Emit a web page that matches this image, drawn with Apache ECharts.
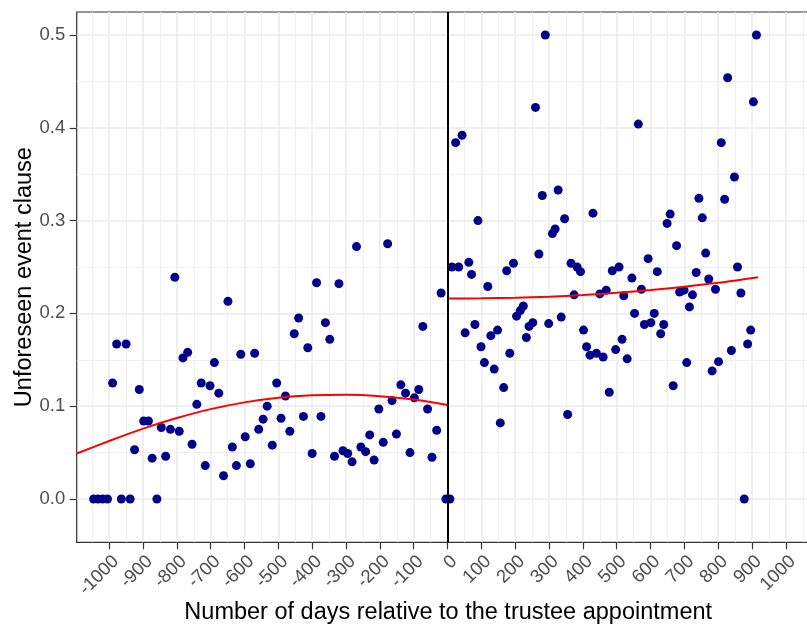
<!DOCTYPE html>
<html>
<head>
<meta charset="utf-8">
<script src="https://cdn.jsdelivr.net/npm/echarts@6/dist/echarts.min.js"></script>
<style>
  html, body { margin: 0; padding: 0; background: #ffffff; }
  #chart { width: 807px; height: 628px; }
</style>
</head>
<body>
<div id="chart"></div>
<script>
// binned observations before the trustee appointment
const daysBefore = [-1046, -1033, -1019, -1005, -990, -978, -964, -950, -938, -925, -911, -898, -884, -873, -859, -846, -833, -819, -806, -793,
  -782, -768, -755, -741, -728, -716, -702, -689, -676, -662, -649, -636, -624, -611, -598, -583, -570, -558, -545, -533,
  -518, -505, -492, -479, -466, -453, -440, -426, -413, -400, -387, -374, -361, -348, -334, -321, -309, -295, -282, -269,
  -256, -242, -230, -217, -203, -190, -177, -164, -151, -138, -124, -111, -98, -85, -73, -59, -46, -32, -19, -5];
const shareBefore = [0, 0, 0, 0, 0.125, 0.167, 0, 0.167, 0, 0.053, 0.118, 0.084, 0.084, 0.044, 0, 0.077, 0.046, 0.075, 0.239, 0.073,
  0.152, 0.158, 0.059, 0.102, 0.125, 0.036, 0.122, 0.147, 0.114, 0.025, 0.213, 0.056, 0.036, 0.156, 0.067, 0.038, 0.157, 0.075, 0.086, 0.100,
  0.058, 0.125, 0.087, 0.111, 0.073, 0.178, 0.195, 0.089, 0.163, 0.049, 0.233, 0.089, 0.190, 0.172, 0.046, 0.232, 0.052, 0.049, 0.040, 0.272,
  0.056, 0.051, 0.069, 0.042, 0.097, 0.061, 0.275, 0.106, 0.070, 0.123, 0.114, 0.050, 0.109, 0.118, 0.186, 0.097, 0.045, 0.074, 0.222, 0];

// binned observations after the trustee appointment
const daysAfter = [7, 13, 24, 33, 43, 52, 63, 71, 81, 90, 99, 109, 119, 128, 138, 148, 156, 166, 175, 184,
  195, 204, 215, 224, 233, 241, 252, 260, 270, 280, 289, 299, 310, 318, 327, 336, 346, 355, 365, 374,
  383, 393, 402, 411, 421, 430, 440, 450, 460, 469, 478, 487, 497, 507, 516, 521, 531, 545, 553, 564,
  573, 582, 593, 601, 611, 620, 630, 639, 649, 658, 667, 677, 686, 699, 707, 715, 724, 735, 743, 753,
  763, 772, 782, 792, 801, 809, 819, 828, 839, 848, 857, 867, 877, 887, 896, 904, 913];
const shareAfter = [0, 0.250, 0.384, 0.250, 0.392, 0.179, 0.255, 0.242, 0.188, 0.300, 0.164, 0.147, 0.229, 0.176, 0.140, 0.182, 0.082, 0.120, 0.246, 0.157,
  0.254, 0.197, 0.203, 0.208, 0.174, 0.186, 0.190, 0.422, 0.264, 0.327, 0.500, 0.189, 0.286, 0.291, 0.333, 0.196, 0.302, 0.091, 0.254, 0.220,
  0.250, 0.245, 0.182, 0.164, 0.155, 0.308, 0.157, 0.221, 0.153, 0.225, 0.115, 0.246, 0.161, 0.250, 0.172, 0.219, 0.151, 0.238, 0.200, 0.404,
  0.226, 0.188, 0.259, 0.190, 0.200, 0.245, 0.178, 0.188, 0.297, 0.307, 0.122, 0.273, 0.223, 0.225, 0.147, 0.207, 0.220, 0.244, 0.324, 0.303,
  0.265, 0.237, 0.138, 0.226, 0.148, 0.384, 0.323, 0.454, 0.160, 0.347, 0.250, 0.222, 0, 0.167, 0.182, 0.428, 0.500];

// fitted curves
const fitDaysBefore = [-1096, -1000, -900, -800, -700, -600, -500, -400, -300, -200, -100, 0];
const fitBefore = [0.049, 0.0625, 0.0758, 0.0872, 0.0968, 0.1041, 0.1091, 0.1117, 0.1123, 0.1107, 0.1071, 0.1013];
const fitDaysAfter = [0, 100, 200, 300, 400, 500, 600, 700, 800, 918];
const fitAfter = [0.216, 0.2163, 0.2168, 0.218, 0.2198, 0.2222, 0.2252, 0.2288, 0.233, 0.239];

// tick labels
const xTicks = [-1000, -900, -800, -700, -600, -500, -400, -300, -200, -100, 0, 100, 200, 300, 400, 500, 600, 700, 800, 900, 1000];
const yTicks = [0, 0.1, 0.2, 0.3, 0.4, 0.5];

const pair = (xs, ys) => xs.map((x, i) => [x, ys[i]]);

const chart = echarts.init(document.getElementById("chart"));
const font = "Liberation Sans, Arial, sans-serif";

let option = {
  animation: false,
  textStyle: { fontFamily: font },
  grid: {
    left: 76.7,
    right: -12.7,
    top: 12,
    bottom: 85.7,
    outerBoundsMode: "none",
    containLabel: false,
    show: true,
    borderColor: "#333333",
    borderWidth: 1.2,
    backgroundColor: "#ffffff",
  },
  xAxis: {
    type: "value",
    min: -1096,
    max: 1100,
    splitNumber: 22,
    axisLine: { show: false, onZero: false },
    axisTick: {
      show: true,
      length: 7,
      customValues: xTicks,
      lineStyle: { color: "#333333", width: 1.2 },
    },
    axisLabel: {
      customValues: xTicks,
      rotate: 45,
      margin: 9.5,
      align: "right",
      verticalAlign: "top",
      fontSize: 18.5,
      color: "#4D4D4D",
      fontFamily: font,
      formatter: (v) => String(v),
    },
    splitLine: { show: true, lineStyle: { color: "#EBEBEB", width: 1.5 } },
    minorTick: { show: false, splitNumber: 2 },
    minorSplitLine: { show: true, lineStyle: { color: "#EBEBEB", width: 0.8 } },
    name: "Number of days relative to the trustee appointment",
    nameLocation: "middle",
    nameMoveOverlap: false,
    nameGap: 58,
    nameTextStyle: { fontSize: 23.5, color: "#000000", fontFamily: font },
  },
  yAxis: {
    type: "value",
    min: -0.0467,
    max: 0.5248,
    splitNumber: 6,
    axisLine: { show: false, onZero: false },
    axisTick: {
      show: true,
      length: 7,
      customValues: yTicks,
      lineStyle: { color: "#333333", width: 1.2 },
    },
    axisLabel: {
      customValues: yTicks,
      margin: 11.5,
      fontSize: 18.5,
      color: "#4D4D4D",
      fontFamily: font,
      formatter: (v) => v.toFixed(1),
    },
    splitLine: { show: true, lineStyle: { color: "#EBEBEB", width: 1.5 } },
    minorTick: { show: false, splitNumber: 2 },
    minorSplitLine: { show: true, lineStyle: { color: "#EBEBEB", width: 0.8 } },
    name: "Unforeseen event clause",
    nameLocation: "middle",
    nameMoveOverlap: false,
    nameGap: 40,
    nameTextStyle: { fontSize: 23.5, color: "#000000", fontFamily: font },
  },
  series: [
    {
      type: "scatter",
      name: "before",
      data: pair(daysBefore, shareBefore),
      symbolSize: 9,
      itemStyle: { color: "#00008B", opacity: 1 },
      z: 3,
    },
    {
      type: "scatter",
      name: "after",
      data: pair(daysAfter, shareAfter),
      symbolSize: 9,
      itemStyle: { color: "#00008B", opacity: 1 },
      z: 3,
      markLine: {
        silent: true,
        symbol: "none",
        label: { show: false },
        lineStyle: { color: "#000000", width: 2, type: "solid" },
        data: [{ xAxis: 0 }],
      },
    },
    {
      type: "line",
      name: "fitBefore",
      data: pair(fitDaysBefore, fitBefore),
      smooth: 0.3,
      showSymbol: false,
      lineStyle: { color: "#FF0000", width: 2 },
      z: 4,
    },
    {
      type: "line",
      name: "fitAfter",
      data: pair(fitDaysAfter, fitAfter),
      smooth: 0.3,
      showSymbol: false,
      lineStyle: { color: "#FF0000", width: 2 },
      z: 4,
    },
  ],
};

option && chart.setOption(option);
</script>
</body>
</html>
